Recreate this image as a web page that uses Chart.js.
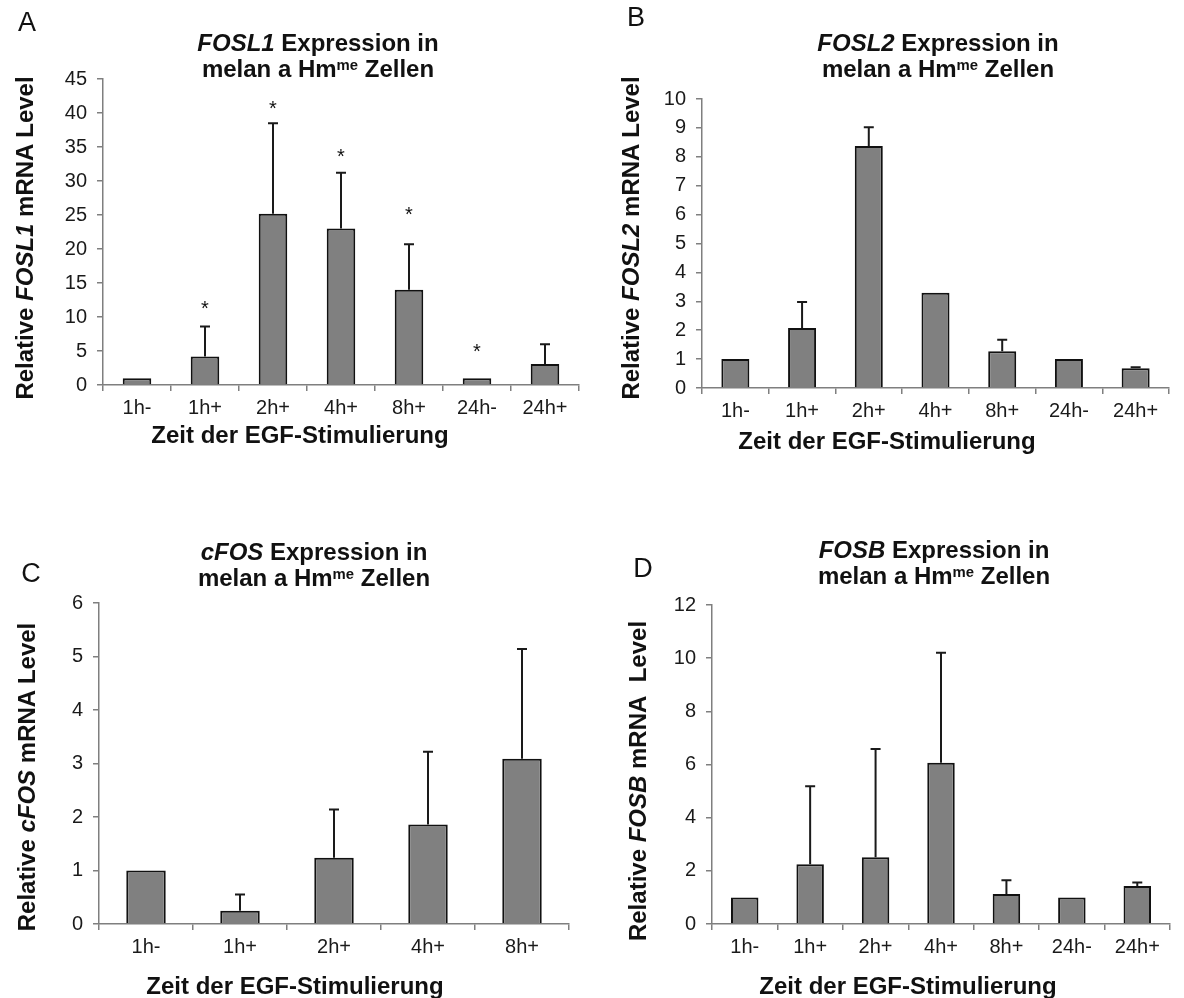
<!DOCTYPE html>
<html>
<head>
<meta charset="utf-8">
<script src="https://cdn.jsdelivr.net/npm/chart.js@4.4.1/dist/chart.umd.min.js"></script>
<style>
  body { margin: 0; background: #fff; width: 1184px; height: 998px; position: relative; overflow: hidden;
         font-family: "Liberation Sans", Arial, sans-serif; color: #111; }
  canvas { position: absolute; }
  .t { position: absolute; transform: translate(-50%, -50%); white-space: nowrap; font-weight: bold;
       font-size: 24px; line-height: 26px; text-align: center; }
  .letter { font-weight: normal; font-size: 27px; }
  .yt { transform: translate(-50%, -50%) rotate(-90deg); }
  sup { font-size: 0.62em; vertical-align: 0.5em; line-height: 0; }
</style>
</head>
<body>
<canvas id="chartA" width="592" height="499" style="left:0;top:0"></canvas>
<canvas id="chartB" width="592" height="499" style="left:592px;top:0"></canvas>
<canvas id="chartC" width="592" height="499" style="left:0;top:499px"></canvas>
<canvas id="chartD" width="592" height="499" style="left:592px;top:499px"></canvas>

<div class="t letter" style="left:27px;top:22px">A</div>
<div class="t" style="left:318px;top:56px"><i>FOSL1</i> Expression in<br>melan a Hm<sup>me</sup> Zellen</div>
<div class="t yt" style="left:25px;top:238px">Relative <i>FOSL1</i> mRNA Level</div>
<div class="t" style="left:300px;top:435px">Zeit der EGF-Stimulierung</div>

<div class="t letter" style="left:636px;top:17px">B</div>
<div class="t" style="left:938px;top:56px"><i>FOSL2</i> Expression in<br>melan a Hm<sup>me</sup> Zellen</div>
<div class="t yt" style="left:631px;top:238px">Relative <i>FOSL2</i> mRNA Level</div>
<div class="t" style="left:887px;top:441px">Zeit der EGF-Stimulierung</div>

<div class="t letter" style="left:31px;top:573px">C</div>
<div class="t" style="left:314px;top:565px"><i>cFOS</i> Expression in<br>melan a Hm<sup>me</sup> Zellen</div>
<div class="t yt" style="left:27px;top:777px">Relative <i>cFOS</i> mRNA Level</div>
<div class="t" style="left:295px;top:986px">Zeit der EGF-Stimulierung</div>

<div class="t letter" style="left:643px;top:568px">D</div>
<div class="t" style="left:934px;top:563px"><i>FOSB</i> Expression in<br>melan a Hm<sup>me</sup> Zellen</div>
<div class="t yt" style="left:638px;top:781px">Relative <i>FOSB</i> mRNA&nbsp;&nbsp;Level</div>
<div class="t" style="left:908px;top:986px">Zeit der EGF-Stimulierung</div>

<script>
// Werte (Mittelwert, SD nach oben, Sternchen-Höhe)
const labels7 = ["1h-", "1h+", "2h+", "4h+", "8h+", "24h-", "24h+"];
const labels5 = ["1h-", "1h+", "2h+", "4h+", "8h+"];

const fosl1Values = [1.0, 4.2, 25.2, 23.0, 14.0, 1.0, 3.1];
const fosl1Err = [0, 4.4, 13.3, 8.2, 6.7, 0, 2.9];
const fosl1Stars = [null, 11.9, 41.3, 34.2, 25.7, 5.6, null];
const fosl1Max = 45, fosl1Step = 5;

const fosl2Values = [1.0, 2.08, 8.37, 3.3, 1.27, 1.0, 0.68];
const fosl2Err = [0, 0.9, 0.65, 0, 0.4, 0, 0.04];
const fosl2Max = 10, fosl2Step = 1;

const cfosValues = [1.0, 0.25, 1.24, 1.86, 3.09];
const cfosErr = [0, 0.3, 0.9, 1.36, 2.05];
const cfosMax = 6, cfosStep = 1;

const fosbValues = [1.0, 2.25, 2.51, 6.07, 1.13, 1.0, 1.43];
const fosbErr = [0, 2.93, 4.07, 4.13, 0.52, 0, 0.13];
const fosbMax = 12, fosbStep = 2;

const FONT = "'Liberation Sans', Arial, sans-serif";
const AXIS_GREY = "#7f7f7f";

// Fehlerbalken (nur nach oben) und Sternchen
const errorBarPlugin = {
  id: "errorBars",
  afterDatasetsDraw(chart, args, opts) {
    const { ctx, scales } = chart;
    const meta = chart.getDatasetMeta(0);
    ctx.save();
    ctx.strokeStyle = "#1a1a1a";
    ctx.lineWidth = 2;
    meta.data.forEach((bar, i) => {
      const sd = opts.err[i];
      if (sd > 0) {
        const yTop = scales.y.getPixelForValue(opts.values[i] + sd);
        ctx.beginPath();
        ctx.moveTo(bar.x, bar.y);
        ctx.lineTo(bar.x, yTop);
        ctx.moveTo(bar.x - 5, yTop);
        ctx.lineTo(bar.x + 5, yTop);
        ctx.stroke();
      }
      if (opts.stars && opts.stars[i] != null) {
        const ys = scales.y.getPixelForValue(opts.stars[i]);
        ctx.fillStyle = "#111";
        ctx.font = "20px " + FONT;
        ctx.textAlign = "center";
        ctx.textBaseline = "alphabetic";
        ctx.fillText("*", bar.x, ys + 11);
      }
    });
    ctx.restore();
  },
};

function makeChart(id, canvasPos, area, labels, values, err, stars, yMax, yStep) {
  const canvas = document.getElementById(id);
  const padLeft = 40;
  const xHeight = 40;
  const tickFont = { family: FONT, size: 20 };

  return new Chart(canvas.getContext("2d"), {
    type: "bar",
    data: {
      labels: labels,
      datasets: [
        {
          data: values,
          backgroundColor: "#808080",
          borderColor: "#111",
          borderWidth: 2,
          barPercentage: 0.42,
          categoryPercentage: 1.0,
        },
      ],
    },
    options: {
      responsive: false,
      animation: false,
      layout: {
        padding: {
          left: padLeft,
          top: area.top - canvasPos.y,
          right: canvasPos.x + 592 - area.right,
          bottom: canvasPos.y + 499 - area.bottom - xHeight,
        },
      },
      plugins: {
        legend: { display: false },
        tooltip: { enabled: false },
        errorBars: { values: values, err: err, stars: stars },
      },
      scales: {
        x: {
          grid: { offset: true, drawOnChartArea: false, tickLength: 6, color: AXIS_GREY, lineWidth: 1.5 },
          border: { color: AXIS_GREY, width: 1.5 },
          ticks: { font: tickFont, color: "#1a1a1a", padding: 5, maxRotation: 0, autoSkip: false },
          afterFit: (s) => { s.height = xHeight; },
        },
        y: {
          min: 0,
          max: yMax,
          ticks: { stepSize: yStep, font: tickFont, color: "#1a1a1a", padding: 10 },
          grid: { drawOnChartArea: false, tickLength: 6, color: AXIS_GREY, lineWidth: 1.5 },
          border: { color: AXIS_GREY, width: 1.5 },
          afterFit: (s) => { s.width = area.left - canvasPos.x - padLeft; },
        },
      },
    },
    plugins: [errorBarPlugin],
  });
}

makeChart("chartA", { x: 0, y: 0 }, { left: 103, top: 79, right: 579, bottom: 385 },
  labels7, fosl1Values, fosl1Err, fosl1Stars, fosl1Max, fosl1Step);
makeChart("chartB", { x: 592, y: 0 }, { left: 702, top: 99, right: 1169, bottom: 388 },
  labels7, fosl2Values, fosl2Err, null, fosl2Max, fosl2Step);
makeChart("chartC", { x: 0, y: 499 }, { left: 99, top: 603, right: 569, bottom: 924 },
  labels5, cfosValues, cfosErr, null, cfosMax, cfosStep);
makeChart("chartD", { x: 592, y: 499 }, { left: 712, top: 605, right: 1170, bottom: 924 },
  labels7, fosbValues, fosbErr, null, fosbMax, fosbStep);
</script>
</body>
</html>
